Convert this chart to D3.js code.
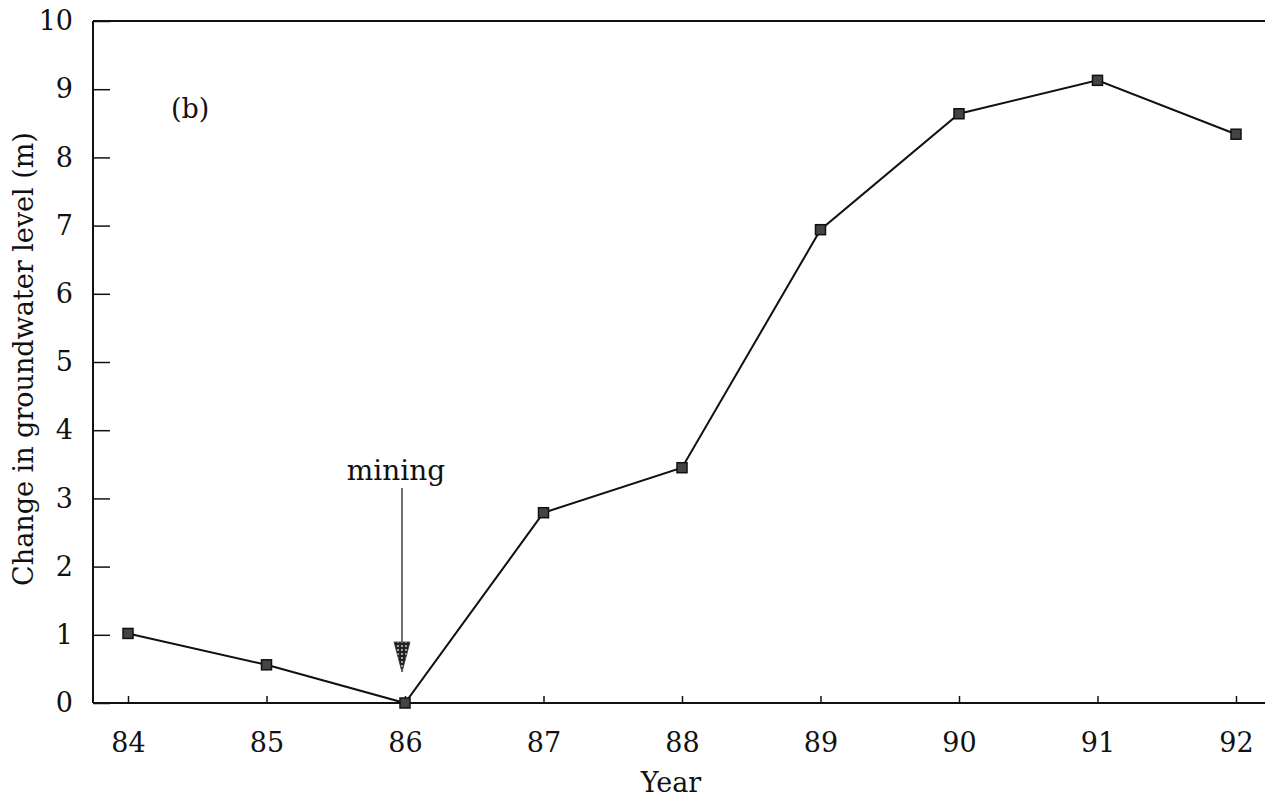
<!DOCTYPE html>
<html>
<head>
<meta charset="utf-8">
<script src="https://cdn.jsdelivr.net/npm/d3@7/dist/d3.min.js"></script>
<style>
  html, body { margin: 0; padding: 0; background: #fff; }
  svg { display: block; }
  text { font-family: "DejaVu Serif", "Liberation Serif", serif; fill: #111; }
</style>
</head>
<body>
<svg id="chart" width="1265" height="800"></svg>
<script>
// Groundwater level change by year
const years = [84, 85, 86, 87, 88, 89, 90, 91, 92];
const levelChange = [1.02, 0.56, 0.0, 2.79, 3.45, 6.94, 8.64, 9.13, 8.34];
const yTicks = [0, 1, 2, 3, 4, 5, 6, 7, 8, 9, 10];
const miningYear = 86;

(function () {
const svg = d3.select("#chart");
const mLeft = 93, mRight = 1265, mTop = 21, mBottom = 703;
const serif = "DejaVu Serif, Liberation Serif, serif";

const x = d3.scaleLinear().domain([84, 92]).range([128, 1236]);
const y = d3.scaleLinear().domain([0, 10]).range([mBottom, mTop]);

// frame: left and top lines
svg.append("line").attr("x1", mLeft).attr("x2", mLeft).attr("y1", mTop).attr("y2", mBottom)
  .attr("stroke", "#111").attr("stroke-width", 2);
svg.append("line").attr("x1", mLeft).attr("x2", mRight).attr("y1", mTop).attr("y2", mTop)
  .attr("stroke", "#111").attr("stroke-width", 2);

// y axis: ticks pointing inward
const yAxis = d3.axisRight(y).tickValues(yTicks).tickSize(17).tickFormat(d3.format("d"));
const gy = svg.append("g").attr("transform", `translate(${mLeft},0)`).call(yAxis);
gy.select(".domain").remove();
gy.attr("font-family", serif).attr("font-size", 27);
gy.selectAll(".tick line").attr("stroke", "#111").attr("stroke-width", 1.5);
gy.selectAll(".tick text").attr("text-anchor", "end").attr("x", -20).attr("fill", "#111");

// x axis: ticks pointing upward
const xAxis = d3.axisBottom(x).tickValues(years).tickSize(-7).tickFormat(d3.format("d"));
const gx = svg.append("g").attr("transform", `translate(0,${mBottom})`).call(xAxis);
gx.select(".domain").remove();
gx.attr("font-family", serif).attr("font-size", 27);
svg.append("line").attr("x1", mLeft).attr("x2", mRight).attr("y1", mBottom).attr("y2", mBottom)
  .attr("stroke", "#111").attr("stroke-width", 2);
gx.selectAll(".tick line").attr("stroke", "#111").attr("stroke-width", 1.5);
gx.selectAll(".tick text").attr("y", 49).attr("dy", 0).attr("fill", "#111");

// axis titles
svg.append("text").attr("x", 671).attr("y", 792)
  .attr("text-anchor", "middle").attr("font-size", 27).text("Year");
svg.append("text").attr("transform", `translate(33,359) rotate(-90)`)
  .attr("text-anchor", "middle").attr("font-size", 27).text("Change in groundwater level (m)");

// panel label
svg.append("text").attr("x", 171).attr("y", 118).attr("font-size", 27).text("(b)");

// data line
const pts = years.map((yr, i) => [yr, levelChange[i]]);
svg.append("path").datum(pts)
  .attr("fill", "none").attr("stroke", "#111").attr("stroke-width", 2)
  .attr("d", d3.line().x(d => x(d[0])).y(d => y(d[1])));

// markers
svg.selectAll("rect.pt").data(pts).enter().append("rect")
  .attr("class", "pt")
  .attr("x", d => x(d[0]) - 5).attr("y", d => y(d[1]) - 5)
  .attr("width", 10).attr("height", 10)
  .attr("fill", "#444").attr("stroke", "#111").attr("stroke-width", 1.5);

// mining annotation with stippled arrowhead
const defs = svg.append("defs");
const pat = defs.append("pattern").attr("id", "stipple").attr("patternUnits", "userSpaceOnUse")
  .attr("width", 4).attr("height", 4);
pat.append("rect").attr("width", 4).attr("height", 4).attr("fill", "#222");
pat.append("circle").attr("cx", 2).attr("cy", 2).attr("r", 0.9).attr("fill", "#ddd");

const ax = x(miningYear) - 3;
svg.append("text").attr("x", ax - 6).attr("y", 480).attr("text-anchor", "middle")
  .attr("font-size", 28).text("mining");
svg.append("line").attr("x1", ax).attr("x2", ax).attr("y1", 488).attr("y2", 643)
  .attr("stroke", "#111").attr("stroke-width", 1.2);
svg.append("path")
  .attr("d", `M${ax - 8},642 L${ax + 8},642 L${ax},672 Z`)
  .attr("fill", "url(#stipple)").attr("stroke", "#333").attr("stroke-width", 0.8);
})();
</script>
</body>
</html>
